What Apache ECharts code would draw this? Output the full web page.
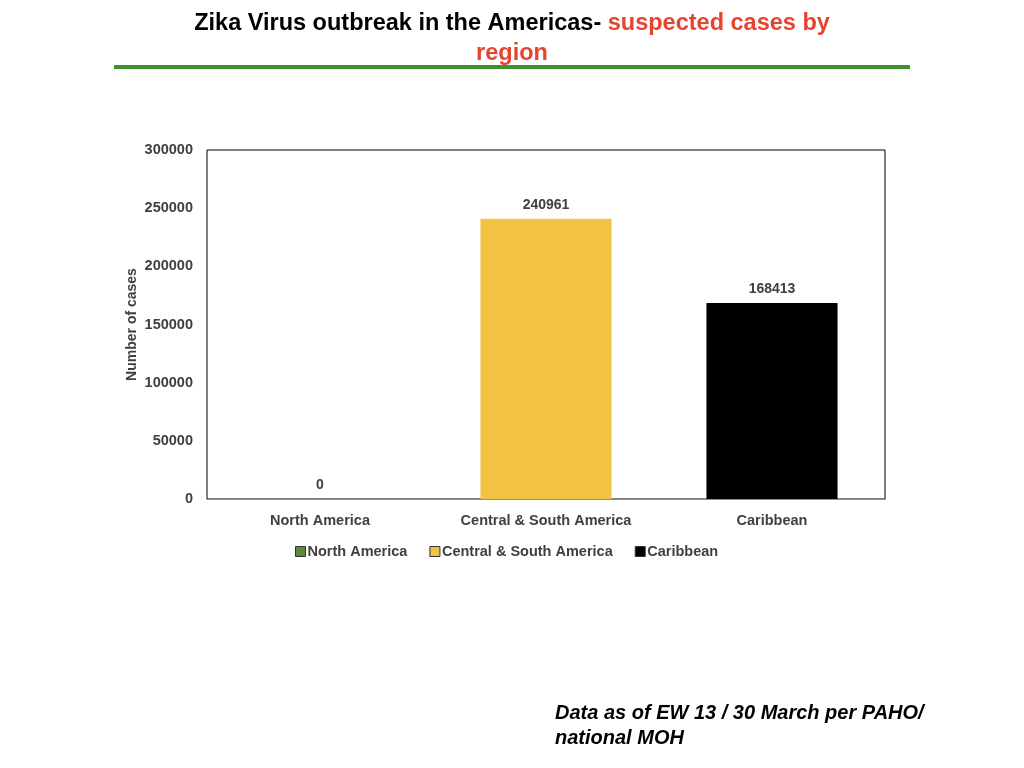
<!DOCTYPE html>
<html>
<head>
<meta charset="utf-8">
<script src="https://cdn.jsdelivr.net/npm/echarts@6/dist/echarts.min.js"></script>
<style>
  html, body { margin: 0; padding: 0; background: #fff; }
  #chart { width: 1024px; height: 768px; }
</style>
</head>
<body>
<div id="chart"></div>
<script>
// chart data
const regions = ['North America', 'Central & South America', 'Caribbean'];
const cases = [0, 240961, 168413];
const colors = ['#5b8a3c', '#f2c343', '#000000'];
const yTicks = [0, 50000, 100000, 150000, 200000, 250000, 300000];

const chart = echarts.init(document.getElementById('chart'), null, { renderer: 'canvas' });

// one series per region so the legend gets one entry each
const series = regions.map((name, i) => ({
  name: name,
  type: 'bar',
  stack: 'all',
  barWidth: '58%',
  data: regions.map((r, j) => (j === i ? cases[i] : '-')),
  itemStyle: { color: colors[i] },
  label: {
    show: true,
    position: 'top',
    distance: 7,
    color: '#404040',
    fontSize: 14,
    fontWeight: 'bold'
  }
}));

chart.setOption({
  animation: false,
  textStyle: { fontFamily: 'Liberation Sans' },
  title: {
    text: '{b|Zika Virus outbreak in the Americas- }{r|suspected cases by}\n{r|region}',
    left: 'center',
    top: 4,
    textStyle: {
      rich: {
        b: { fontSize: 23.5, fontWeight: 'bold', color: '#000', fontFamily: 'Liberation Sans', lineHeight: 30 },
        r: { fontSize: 23.5, fontWeight: 'bold', color: '#e8432e', fontFamily: 'Liberation Sans', lineHeight: 30 }
      }
    }
  },
  graphic: [
    { type: 'rect', shape: { x: 114, y: 65, width: 796, height: 4 }, style: { fill: '#3f8f2f' } },
    {
      type: 'text', left: 555, top: 701,
      style: {
        text: 'Data as of EW 13 / 30 March per PAHO/\nnational MOH',
        font: 'italic bold 20px "Liberation Sans"',
        fill: '#000',
        lineHeight: 25
      }
    }
  ],
  legend: {
    top: 539,
    left: 290,
    itemWidth: 10,
    itemHeight: 10,
    itemGap: 22,
    icon: 'rect',
    textStyle: { color: '#404040', fontSize: 14.5, fontWeight: 'bold', padding: [0, 0, 0, -3] },
    itemStyle: { borderColor: '#333', borderWidth: 1 }
  },
  grid: { left: 207, right: 139, top: 150, bottom: 269, show: true, borderColor: '#000', borderWidth: 1, containLabel: false },
  xAxis: {
    type: 'category',
    data: regions,
    axisTick: { show: false },
    axisLine: { lineStyle: { color: '#8c8c8c', width: 1 } },
    axisLabel: { color: '#404040', fontSize: 14.5, fontWeight: 'bold', margin: 14 }
  },
  yAxis: {
    type: 'value',
    min: yTicks[0],
    max: yTicks[yTicks.length - 1],
    interval: 50000,
    name: 'Number of cases',
    nameLocation: 'middle',
    nameGap: 68,
    nameMoveOverlap: false,
    nameTextStyle: { color: '#404040', fontSize: 14, fontWeight: 'bold' },
    splitLine: { show: false },
    axisLine: { show: false },
    axisTick: { show: false },
    axisLabel: { color: '#404040', fontSize: 14.5, fontWeight: 'bold', margin: 14, formatter: v => String(v) }
  },
  series: series
});
</script>
</body>
</html>
